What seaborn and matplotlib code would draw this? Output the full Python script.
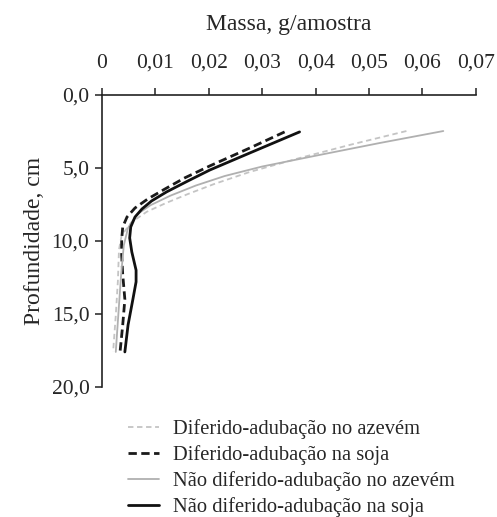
import matplotlib
matplotlib.use("Agg")
import matplotlib.pyplot as plt
import seaborn as sns
import pandas as pd
from matplotlib.ticker import FuncFormatter

# Data (depth in cm, mass in g/amostra)
depth_dif_soja = [2.53, 3.63, 4.86, 5.68, 6.44, 7.12, 7.74, 8.36, 9.04, 9.93, 10.96, 12.3, 14.0, 15.75, 17.6]
mass_dif_soja = [0.0342, 0.0277, 0.0202, 0.0155, 0.0118, 0.0086, 0.0062, 0.0047, 0.0039, 0.0037, 0.0037, 0.0039, 0.0043, 0.0039, 0.0034]

depth_nd_soja = [2.53, 3.97, 5.14, 5.89, 6.64, 7.26, 7.81, 8.36, 9.04, 9.79, 10.75, 12.0, 12.8, 14.0, 15.75, 17.6]
mass_nd_soja = [0.0370, 0.0277, 0.0202, 0.0161, 0.0121, 0.0093, 0.0075, 0.0062, 0.0054, 0.0052, 0.0056, 0.0064, 0.0064, 0.0058, 0.0049, 0.0043]

depth_nd_azevem = [2.47, 3.29, 4.11, 4.9, 5.55, 6.2, 6.9, 7.55, 8.2, 9.1, 10.3, 12.3, 14.4, 17.6]
mass_nd_azevem = [0.0639, 0.0520, 0.0407, 0.0300, 0.0230, 0.0176, 0.0128, 0.0091, 0.0065, 0.0049, 0.0041, 0.0036, 0.0032, 0.0026]

depth_dif_azevem = [2.47, 3.42, 4.32, 5.27, 6.1, 6.8, 7.4, 8.0, 8.7, 9.6, 10.6, 12.7, 15.1, 17.6]
mass_dif_azevem = [0.0570, 0.0464, 0.0370, 0.0277, 0.0210, 0.0160, 0.0120, 0.0084, 0.0056, 0.0037, 0.0032, 0.0030, 0.0026, 0.0021]

series_names = [
    "Diferido-adubação no azevém",
    "Diferido-adubação na soja",
    "Não diferido-adubação no azevém",
    "Não diferido-adubação na soja",
]
x_ticks = [0, 0.01, 0.02, 0.03, 0.04, 0.05, 0.06, 0.07]
y_ticks = [0, 5, 10, 15, 20]

sns.set_style("white")
plt.rcParams["font.family"] = ["Liberation Serif", "DejaVu Serif"]

fig = plt.figure(figsize=(4.97, 5.17), dpi=100)
ax = fig.add_axes([0.205, 0.2515, 0.7525, 0.5648])

data = [
    (depth_dif_azevem, mass_dif_azevem, "#c4c4c4", (0, (3, 2)), 1.3),
    (depth_dif_soja, mass_dif_soja, "#1a1a1a", (0, (3, 1.6)), 2.0),
    (depth_nd_azevem, mass_nd_azevem, "#b0b0b0", "-", 1.3),
    (depth_nd_soja, mass_nd_soja, "#111111", "-", 2.0),
]
for name, (d, m, c, ls, lw) in zip(series_names, data):
    df = pd.DataFrame({"massa": m, "prof": d})
    sns.lineplot(data=df, x="massa", y="prof", sort=False, estimator=None,
                 color=c, linestyle=ls, linewidth=lw, label=name, ax=ax, legend=False)
for line in ax.get_lines():
    line.set_solid_joinstyle("round")
    line.set_dash_joinstyle("round")

ax.set_xlim(0, 0.07)
ax.set_ylim(20, 0)
ax.xaxis.tick_top()
ax.xaxis.set_label_position("top")
ax.set_xticks(x_ticks)
ax.set_yticks(y_ticks)
ax.xaxis.set_major_formatter(FuncFormatter(lambda v, p: "0" if v == 0 else f"{v:.2f}".replace(".", ",")))
ax.yaxis.set_major_formatter(FuncFormatter(lambda v, p: f"{v:.1f}".replace(".", ",")))
for s in ["bottom", "right"]:
    ax.spines[s].set_visible(False)
for s in ["top", "left"]:
    ax.spines[s].set_color("#222222")
    ax.spines[s].set_linewidth(1.2)
ax.tick_params(axis="both", direction="out", length=5, width=1.1, color="#222222",
               labelsize=15.5)
ax.tick_params(axis="x", top=True, bottom=False, pad=11)
ax.tick_params(axis="y", left=True, pad=4)
ax.set_xlabel("Massa, g/amostra", fontsize=17, labelpad=17)
ax.set_ylabel("Profundidade, cm", fontsize=17, labelpad=5)
ax.grid(False)

handles, labels = ax.get_legend_handles_labels()
fig.legend(handles, labels, loc="upper left", bbox_to_anchor=(0.2575, 0.189),
           frameon=False, fontsize=14.8, handlelength=1.5, handletextpad=0.7,
           labelspacing=0.3, borderaxespad=0, borderpad=0)

fig.savefig("out.png", dpi=100, facecolor="white")
